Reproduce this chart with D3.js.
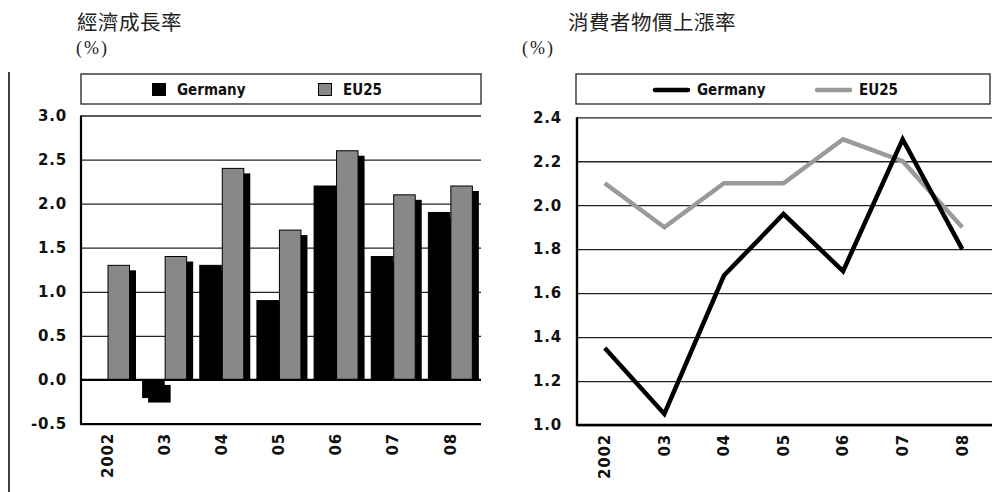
<!DOCTYPE html>
<html>
<head>
<meta charset="utf-8">
<script src="https://cdn.jsdelivr.net/npm/d3@7"></script>
<style>
  html, body { margin: 0; padding: 0; background: #fff; }
  svg { display: block; }
  .tick-lab { font-family: "DejaVu Sans", sans-serif; font-weight: bold; font-size: 15px; fill: #111; }
  .leg-lab { font-family: "DejaVu Sans Condensed", "DejaVu Sans", sans-serif; font-weight: bold; font-size: 15px; fill: #111; }
  .title { font-family: "Noto Sans CJK TC", sans-serif; font-size: 20.5px; fill: #222; }
  .unit { font-family: "Liberation Serif", serif; font-size: 18px; fill: #222; }
</style>
</head>
<body>
<svg id="chart" width="1005" height="492"></svg>
<script>
// ---------- data ----------
const years = ["2002", "03", "04", "05", "06", "07", "08"];
const seriesNames = ["Germany", "EU25"];

// GDP growth (%)
const gdpGermany = [0.0, -0.2, 1.3, 0.9, 2.2, 1.4, 1.9];
const gdpEU25    = [1.3, 1.4, 2.4, 1.7, 2.6, 2.1, 2.2];
const gdpTicks   = [-0.5, 0.0, 0.5, 1.0, 1.5, 2.0, 2.5, 3.0];

// consumer price inflation (%)
const cpiGermany = [1.35, 1.05, 1.68, 1.96, 1.70, 2.30, 1.80];
const cpiEU25    = [2.1, 1.9, 2.1, 2.1, 2.3, 2.2, 1.9];
const cpiTicks   = [1.0, 1.2, 1.4, 1.6, 1.8, 2.0, 2.2, 2.4];

const leftTitle = "經濟成長率";
const rightTitle = "消費者物價上漲率";
const unitLabel = "(%)";

// ---------- drawing ----------
const svg = d3.select("#chart");
const colBlack = "#000";
const colGrayBar = "#888";
const colGrayLine = "#9a9a9a";
const fmt = d => d.toFixed(1);

// separator line at far left
svg.append("line").attr("x1", 9).attr("x2", 9).attr("y1", 72).attr("y2", 492)
  .attr("stroke", "#000").attr("stroke-width", 1.5);

// ===== Left chart: bars =====
(function () {
  const L = 81, R = 481, T = 115.5, B = 424;
  const y = d3.scaleLinear().domain([-0.5, 3.0]).range([B, T]);
  const x0 = d3.scaleBand().domain(years).range([L, R]).padding(0);
  const x1 = d3.scaleBand().domain(seriesNames).range([4, 49]).padding(0);
  const g = svg.append("g");

  svg.append("text").attr("class", "title").attr("x", 77).attr("y", 30).attr("letter-spacing", 0.5).text(leftTitle);
  svg.append("text").attr("class", "unit").attr("x", 76).attr("y", 54).attr("letter-spacing", 2).text(unitLabel);

  // legend box
  g.append("rect").attr("x", L).attr("y", 74).attr("width", R - L).attr("height", 30)
    .attr("fill", "none").attr("stroke", "#222").attr("stroke-width", 1.3);
  const legItems = [
    { name: seriesNames[0], fill: colBlack, x: 152 },
    { name: seriesNames[1], fill: colGrayBar, x: 318 }
  ];
  legItems.forEach(it => {
    g.append("rect").attr("x", it.x + 0.5).attr("y", 83.5).attr("width", 13).attr("height", 12)
      .attr("fill", it.fill).attr("stroke", "#000").attr("stroke-width", 1);
    g.append("text").attr("class", "leg-lab").attr("x", it.x + 25).attr("y", 95).text(it.name);
  });

  // gridlines
  const yAxis = d3.axisLeft(y).tickValues(gdpTicks).tickSize(-(R - L)).tickFormat(fmt).tickPadding(14);
  const ax = g.append("g").attr("transform", `translate(${L},0)`).call(yAxis);
  ax.select(".domain").remove();
  ax.selectAll(".tick line").attr("stroke", "#222").attr("stroke-width", 1.3);
  ax.selectAll(".tick text").attr("class", "tick-lab").attr("font-family", null).attr("font-size", null)
    .attr("letter-spacing", 0.8);

  // bars
  const data = years.map((yr, i) => ({ yr, vals: [gdpGermany[i], gdpEU25[i]] }));
  const groups = g.append("g").selectAll("g").data(data).join("g")
    .attr("transform", d => `translate(${x0(d.yr)},0)`);
  const sdx = 6, sdy = 5;
  // shadows
  groups.selectAll("rect.sh").data(d => d.vals.map((v, k) => ({ v, k }))).join("rect")
    .attr("class", "sh")
    .attr("x", d => x1(seriesNames[d.k]) + sdx)
    .attr("width", x1.bandwidth())
    .attr("y", d => d.v >= 0 ? Math.min(y(d.v) + sdy, y(0)) : y(0) + sdy)
    .attr("height", d => d.v >= 0 ? Math.max(0, y(0) - y(d.v) - sdy) : Math.max(0, y(d.v) - y(0)))
    .attr("fill", colBlack);
  groups.selectAll("rect.bar").data(d => d.vals.map((v, k) => ({ v, k }))).join("rect")
    .attr("class", "bar")
    .attr("x", d => x1(seriesNames[d.k]) + 0.5)
    .attr("width", x1.bandwidth() - 1)
    .attr("y", d => y(Math.max(0, d.v)))
    .attr("height", d => Math.abs(y(d.v) - y(0)))
    .attr("fill", d => d.k === 0 ? colBlack : colGrayBar)
    .attr("stroke", "#000").attr("stroke-width", 1);

  // zero line, axes
  g.append("line").attr("x1", L).attr("x2", R).attr("y1", y(0)).attr("y2", y(0)).attr("stroke", "#000").attr("stroke-width", 2.2);
  g.append("line").attr("x1", L).attr("x2", R).attr("y1", B).attr("y2", B).attr("stroke", "#000").attr("stroke-width", 2.2);
  g.append("line").attr("x1", L).attr("x2", L).attr("y1", T).attr("y2", B + 1).attr("stroke", "#000").attr("stroke-width", 2.2);

  // x labels
  g.append("g").selectAll("text").data(years).join("text")
    .attr("class", "tick-lab")
    .attr("letter-spacing", 0.8)
    .attr("transform", d => `translate(${x0(d) + x0.bandwidth() * 0.46},${B + 9}) rotate(-90)`)
    .attr("text-anchor", "end").attr("dy", "0.36em")
    .text(d => d);
})();

// ===== Right chart: lines =====
(function () {
  const L = 577, R = 992, T = 117.3, B = 425;
  const y = d3.scaleLinear().domain([1.0, 2.4]).range([B, T]);
  const x = d3.scalePoint().domain(years).range([L - 2, R]).padding(0.5);
  const g = svg.append("g");

  svg.append("text").attr("class", "title").attr("x", 568).attr("y", 30).attr("letter-spacing", 0.5).text(rightTitle);
  svg.append("text").attr("class", "unit").attr("x", 522).attr("y", 54).attr("letter-spacing", 2).text(unitLabel);

  g.append("rect").attr("x", L - 1).attr("y", 74).attr("width", 990 - L + 1).attr("height", 30)
    .attr("fill", "none").attr("stroke", "#222").attr("stroke-width", 1.3);
  const legItems = [
    { name: seriesNames[0], col: colBlack, x: 653 },
    { name: seriesNames[1], col: colGrayLine, x: 815 }
  ];
  legItems.forEach(it => {
    g.append("line").attr("x1", it.x + 2).attr("x2", it.x + 35).attr("y1", 90).attr("y2", 90)
      .attr("stroke", it.col).attr("stroke-width", 4.5).attr("stroke-linecap", "round");
    g.append("text").attr("class", "leg-lab").attr("x", it.x + 44).attr("y", 95).text(it.name);
  });

  const yAxis = d3.axisLeft(y).tickValues(cpiTicks).tickSize(-(R - L)).tickFormat(fmt).tickPadding(15);
  const ax = g.append("g").attr("transform", `translate(${L},0)`).call(yAxis);
  ax.select(".domain").remove();
  ax.selectAll(".tick line").attr("stroke", "#222").attr("stroke-width", 1.3);
  ax.selectAll(".tick text").attr("class", "tick-lab").attr("font-family", null).attr("font-size", null)
    .attr("letter-spacing", 0.8);

  g.append("line").attr("x1", L).attr("x2", R).attr("y1", B).attr("y2", B).attr("stroke", "#000").attr("stroke-width", 2.4);
  g.append("line").attr("x1", L).attr("x2", L).attr("y1", T).attr("y2", B + 1).attr("stroke", "#000").attr("stroke-width", 2.4);

  const line = d3.line().x((d, i) => x(years[i])).y(d => y(d));
  g.append("path").datum(cpiEU25).attr("d", line).attr("fill", "none")
    .attr("stroke", colGrayLine).attr("stroke-width", 4.5).attr("stroke-linejoin", "miter");
  g.append("path").datum(cpiGermany).attr("d", line).attr("fill", "none")
    .attr("stroke", colBlack).attr("stroke-width", 4.5).attr("stroke-linejoin", "miter");

  g.append("g").selectAll("text").data(years).join("text")
    .attr("class", "tick-lab")
    .attr("letter-spacing", 0.8)
    .attr("transform", d => `translate(${x(d)},${B + 9}) rotate(-90)`)
    .attr("text-anchor", "end").attr("dy", "0.36em")
    .text(d => d);
})();
</script>
</body>
</html>
